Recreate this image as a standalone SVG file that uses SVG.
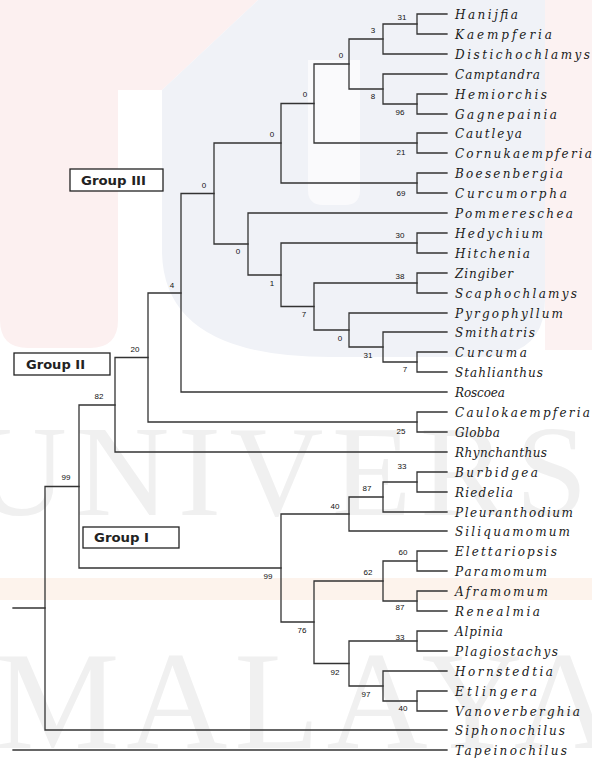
<svg xmlns="http://www.w3.org/2000/svg" width="592" height="760" viewBox="0 0 592 760">
<style>
.wm{font-family:"Liberation Serif",serif;fill:#f0f0f0}
.br{fill:none;stroke:#333;stroke-width:1.3;stroke-linecap:square}
.tx{font-family:"DejaVu Serif",serif;font-style:italic;font-size:12px;fill:#1a1a1a}
.bs{font-family:"Liberation Sans",Arial,sans-serif;font-size:8px;fill:#111;text-anchor:middle}
.gb{fill:#fff;stroke:#222;stroke-width:1.3}
.gt{font-family:"DejaVu Sans",sans-serif;font-weight:bold;font-size:12px;fill:#222}
</style>
<rect x="0" y="0" width="592" height="760" fill="#fff"/>
<g id="watermark">
<path d="M0,0 H258 L162,90 H118 V320 Q118,348 90,348 H28 Q0,348 0,320 Z" fill="#fcf0f0"/>
<path d="M545,0 H592 V350 H545 Z" fill="#fcf2f2"/>
<path d="M162,90 L258,0 H545 V300 Q545,357 480,357 H330 Q162,357 162,250 Z" fill="#f0f2f7"/>
<path d="M308,60 H360 V190 Q360,205 345,205 H323 Q308,205 308,190 Z" fill="#fafafc"/>
<rect x="0" y="578" width="592" height="22" fill="#fdf3ec"/>
<text class="wm" x="-27" y="515" font-size="130" textLength="806" lengthAdjust="spacing">UNIVERSITI</text>
<text class="wm" x="-5" y="748" font-size="140" textLength="620" lengthAdjust="spacing">MALAYA</text>
</g>
<g id="connectors">
<path class="br" d="M447 14 H417 V34 H447"/>
<path class="br" d="M417 24 H383 V54 H447"/>
<path class="br" d="M447 94 H417 V114 H447"/>
<path class="br" d="M447 74 H383 V104 H417"/>
<path class="br" d="M383 39 H349 V89 H383"/>
<path class="br" d="M447 133 H417 V153 H447"/>
<path class="br" d="M349 64 H314 V143 H417"/>
<path class="br" d="M447 173 H417 V193 H447"/>
<path class="br" d="M314 103.5 H281 V183 H417"/>
<path class="br" d="M447 233 H417 V253 H447"/>
<path class="br" d="M447 273 H417 V293 H447"/>
<path class="br" d="M447 352 H417 V372 H447"/>
<path class="br" d="M447 332 H383 V362 H417"/>
<path class="br" d="M447 313 H349 V347 H383"/>
<path class="br" d="M417 283 H314 V330 H349"/>
<path class="br" d="M417 243 H281 V306.5 H314"/>
<path class="br" d="M447 213 H248 V275 H281"/>
<path class="br" d="M281 143 H214 V244 H248"/>
<path class="br" d="M214 193.5 H181 V392 H447"/>
<path class="br" d="M447 412 H417 V432 H447"/>
<path class="br" d="M181 293 H148 V422 H417"/>
<path class="br" d="M148 357.5 H115 V452 H447"/>
<path class="br" d="M447 472 H417 V492 H447"/>
<path class="br" d="M417 482 H383 V512 H447"/>
<path class="br" d="M383 497 H349 V531 H447"/>
<path class="br" d="M447 551 H417 V571 H447"/>
<path class="br" d="M447 591 H417 V611 H447"/>
<path class="br" d="M417 561 H383 V601 H417"/>
<path class="br" d="M447 631 H417 V651 H447"/>
<path class="br" d="M447 691 H417 V711 H447"/>
<path class="br" d="M447 671 H383 V701 H417"/>
<path class="br" d="M417 641 H349 V686 H383"/>
<path class="br" d="M383 581 H314 V663.5 H349"/>
<path class="br" d="M349 514 H281 V622 H314"/>
<path class="br" d="M115 405 H79 V568 H281"/>
<path class="br" d="M79 486.5 H45 V730 H447"/>
<path class="br" d="M13 608 H45"/>
<path class="br" d="M13 750 H447"/>
</g>
<g id="support">
<text class="bs" x="402" y="20">31</text>
<text class="bs" x="373" y="33">3</text>
<text class="bs" x="341" y="58">0</text>
<text class="bs" x="373" y="99">8</text>
<text class="bs" x="400" y="115">96</text>
<text class="bs" x="305" y="97">0</text>
<text class="bs" x="401" y="155">21</text>
<text class="bs" x="272" y="137">0</text>
<text class="bs" x="401" y="196">69</text>
<text class="bs" x="204" y="188">0</text>
<text class="bs" x="238" y="254">0</text>
<text class="bs" x="400" y="238">30</text>
<text class="bs" x="272" y="286">1</text>
<text class="bs" x="400" y="279">38</text>
<text class="bs" x="304" y="317">7</text>
<text class="bs" x="340" y="341">0</text>
<text class="bs" x="368" y="358">31</text>
<text class="bs" x="405" y="372">7</text>
<text class="bs" x="172" y="288">4</text>
<text class="bs" x="135" y="352">20</text>
<text class="bs" x="99" y="399">82</text>
<text class="bs" x="401" y="434">25</text>
<text class="bs" x="66" y="480">99</text>
<text class="bs" x="402" y="469">33</text>
<text class="bs" x="367" y="491">87</text>
<text class="bs" x="335" y="509">40</text>
<text class="bs" x="403" y="555">60</text>
<text class="bs" x="368" y="575">62</text>
<text class="bs" x="268" y="579">99</text>
<text class="bs" x="400" y="610">87</text>
<text class="bs" x="302" y="633">76</text>
<text class="bs" x="400" y="640">33</text>
<text class="bs" x="335" y="675">92</text>
<text class="bs" x="366" y="697">97</text>
<text class="bs" x="403" y="711">40</text>
</g>
<g id="taxa">
<text class="tx" x="455" y="18.5" textLength="63" lengthAdjust="spacing">Hanijfia</text>
<text class="tx" x="455" y="38.5" textLength="97" lengthAdjust="spacing">Kaempferia</text>
<text class="tx" x="455" y="58.5" textLength="135" lengthAdjust="spacing">Distichochlamys</text>
<text class="tx" x="455" y="78.5" textLength="85" lengthAdjust="spacing">Camptandra</text>
<text class="tx" x="455" y="98.5" textLength="92" lengthAdjust="spacing">Hemiorchis</text>
<text class="tx" x="455" y="118.5" textLength="102" lengthAdjust="spacing">Gagnepainia</text>
<text class="tx" x="455" y="137.5" textLength="67" lengthAdjust="spacing">Cautleya</text>
<text class="tx" x="455" y="157.5" textLength="137" lengthAdjust="spacing">Cornukaempferia</text>
<text class="tx" x="455" y="177.5" textLength="108" lengthAdjust="spacing">Boesenbergia</text>
<text class="tx" x="455" y="197.5" textLength="112" lengthAdjust="spacing">Curcumorpha</text>
<text class="tx" x="455" y="217.5" textLength="118" lengthAdjust="spacing">Pommereschea</text>
<text class="tx" x="455" y="237.5" textLength="88" lengthAdjust="spacing">Hedychium</text>
<text class="tx" x="455" y="257.5" textLength="75" lengthAdjust="spacing">Hitchenia</text>
<text class="tx" x="455" y="277.5" textLength="58" lengthAdjust="spacing">Zingiber</text>
<text class="tx" x="455" y="297.5" textLength="122" lengthAdjust="spacing">Scaphochlamys</text>
<text class="tx" x="455" y="317.5" textLength="108" lengthAdjust="spacing">Pyrgophyllum</text>
<text class="tx" x="455" y="336.5" textLength="80" lengthAdjust="spacing">Smithatris</text>
<text class="tx" x="455" y="356.5" textLength="72" lengthAdjust="spacing">Curcuma</text>
<text class="tx" x="455" y="376.5" textLength="88" lengthAdjust="spacing">Stahlianthus</text>
<text class="tx" x="455" y="396.5" textLength="50" lengthAdjust="spacing">Roscoea</text>
<text class="tx" x="455" y="416.5" textLength="135" lengthAdjust="spacing">Caulokaempferia</text>
<text class="tx" x="455" y="436.5" textLength="45" lengthAdjust="spacing">Globba</text>
<text class="tx" x="455" y="456.5" textLength="92" lengthAdjust="spacing">Rhynchanthus</text>
<text class="tx" x="455" y="476.5" textLength="83" lengthAdjust="spacing">Burbidgea</text>
<text class="tx" x="455" y="496.5" textLength="58" lengthAdjust="spacing">Riedelia</text>
<text class="tx" x="455" y="516.5" textLength="118" lengthAdjust="spacing">Pleuranthodium</text>
<text class="tx" x="455" y="535.5" textLength="115" lengthAdjust="spacing">Siliquamomum</text>
<text class="tx" x="455" y="555.5" textLength="102" lengthAdjust="spacing">Elettariopsis</text>
<text class="tx" x="455" y="575.5" textLength="92" lengthAdjust="spacing">Paramomum</text>
<text class="tx" x="455" y="595.5" textLength="93" lengthAdjust="spacing">Aframomum</text>
<text class="tx" x="455" y="615.5" textLength="85" lengthAdjust="spacing">Renealmia</text>
<text class="tx" x="455" y="635.5" textLength="48" lengthAdjust="spacing">Alpinia</text>
<text class="tx" x="455" y="655.5" textLength="103" lengthAdjust="spacing">Plagiostachys</text>
<text class="tx" x="455" y="675.5" textLength="98" lengthAdjust="spacing">Hornstedtia</text>
<text class="tx" x="455" y="695.5" textLength="82" lengthAdjust="spacing">Etlingera</text>
<text class="tx" x="455" y="715.5" textLength="125" lengthAdjust="spacing">Vanoverberghia</text>
<text class="tx" x="455" y="734.5" textLength="110" lengthAdjust="spacing">Siphonochilus</text>
<text class="tx" x="455" y="754.5" textLength="112" lengthAdjust="spacing">Tapeinochilus</text>
</g>
<g id="group3">
<rect class="gb" x="70" y="169" width="93" height="22"/>
<text class="gt" x="81" y="184.5" textLength="65" lengthAdjust="spacingAndGlyphs">Group III</text>
</g>
<g id="group2">
<rect class="gb" x="14" y="353" width="96" height="22"/>
<text class="gt" x="26" y="368.5" textLength="59" lengthAdjust="spacingAndGlyphs">Group II</text>
</g>
<g id="group1">
<rect class="gb" x="83" y="527" width="96" height="21"/>
<text class="gt" x="94" y="542" textLength="55" lengthAdjust="spacingAndGlyphs">Group I</text>
</g>
</svg>
